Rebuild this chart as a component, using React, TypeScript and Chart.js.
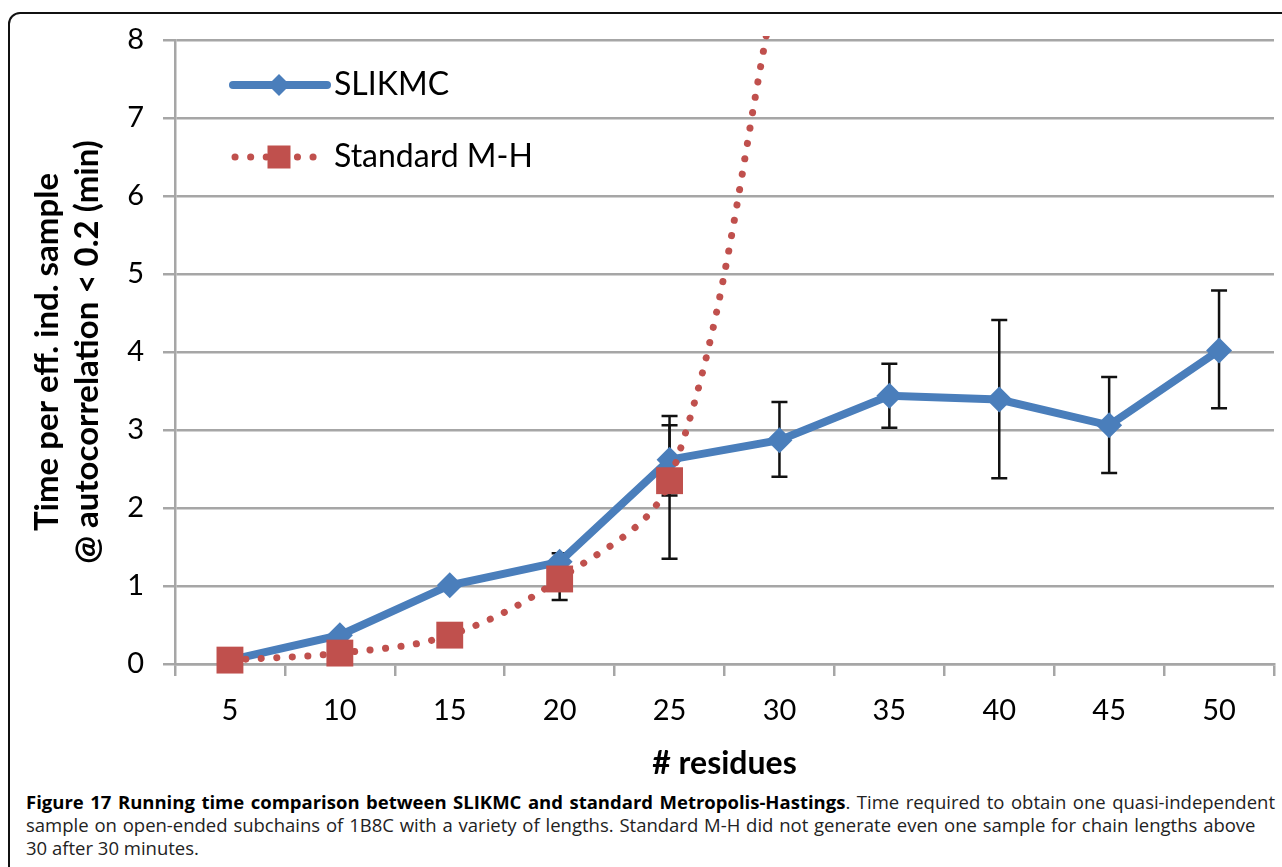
import React, { useEffect, useRef } from 'react';
import { Chart, registerables } from 'chart.js';

Chart.register(...registerables);

const categories = ['5', '10', '15', '20', '25', '30', '35', '40', '45', '50'];
const slikmcValues = [0.05, 0.37, 1.01, 1.31, 2.62, 2.87, 3.44, 3.39, 3.06, 4.02];
const mhValues: (number | null)[] = [0.05, 0.14, 0.37, 1.09, 2.35, 8.9, null, null, null, null];
const slikmcErrLow: (number | null)[] = [null, null, null, null, 1.35, 2.4, 3.03, 2.38, 2.45, 3.28];
const slikmcErrHigh: (number | null)[] = [null, null, null, null, 3.18, 3.36, 3.85, 4.41, 3.68, 4.79];
const mhErrLow: (number | null)[] = [null, null, null, 0.82, 2.16, null, null, null, null, null];
const mhErrHigh: (number | null)[] = [null, null, null, 1.42, 3.06, null, null, null, null, null];
const yMin = 0;
const yMax = 8;
const yStep = 1;

const seriesNames = ['SLIKMC', 'Standard M-H'];
const xTitle = '# residues';
const yTitle = ['Time per eff. ind. sample', '@ autocorrelation < 0.2 (min)'];

const BLUE = '#4a7ebb';
const RED = '#c0504d';
const GRID = '#a6a6a6';
const FONT = 'Lato, "Open Sans", sans-serif';

const errorBarPlugin = {
  id: 'errorBars',
  beforeDatasetsDraw(chart: any) {
    const { ctx } = chart;
    const xs = chart.scales.x;
    const ys = chart.scales.y;
    ctx.save();
    ctx.strokeStyle = '#111';
    ctx.lineWidth = 2.5;
    const draw = (lows: (number | null)[], highs: (number | null)[]) => {
      lows.forEach((lo, i) => {
        const hi = highs[i];
        if (lo == null || hi == null) return;
        const px = xs.getPixelForValue(i);
        const p1 = ys.getPixelForValue(lo);
        const p2 = ys.getPixelForValue(hi);
        ctx.beginPath();
        ctx.moveTo(px, p1);
        ctx.lineTo(px, p2);
        ctx.moveTo(px - 8, p1);
        ctx.lineTo(px + 8, p1);
        ctx.moveTo(px - 8, p2);
        ctx.lineTo(px + 8, p2);
        ctx.stroke();
      });
    };
    draw(slikmcErrLow, slikmcErrHigh);
    draw(mhErrLow, mhErrHigh);
    ctx.restore();
  },
};

const legendPlugin = {
  id: 'insideLegend',
  afterDraw(chart: any) {
    const { ctx, chartArea } = chart;
    const L = chartArea.left;
    const T = chartArea.top;
    ctx.save();
    // row 1: SLIKMC
    let y = T + 45;
    ctx.strokeStyle = BLUE;
    ctx.lineWidth = 8;
    ctx.lineCap = 'round';
    ctx.beginPath();
    ctx.moveTo(L + 58, y);
    ctx.lineTo(L + 152, y);
    ctx.stroke();
    ctx.fillStyle = BLUE;
    const r = 11;
    const cx = L + 104;
    ctx.beginPath();
    ctx.moveTo(cx - r, y);
    ctx.lineTo(cx, y - r);
    ctx.lineTo(cx + r, y);
    ctx.lineTo(cx, y + r);
    ctx.closePath();
    ctx.fill();
    ctx.fillStyle = '#000';
    ctx.font = `32px ${FONT}`;
    ctx.textBaseline = 'middle';
    ctx.textAlign = 'left';
    ctx.fillText(seriesNames[0], L + 159, y);
    // row 2: Standard M-H
    y = T + 117;
    ctx.strokeStyle = RED;
    ctx.lineWidth = 7;
    ctx.setLineDash([0.1, 15.5]);
    ctx.beginPath();
    ctx.moveTo(L + 60, y);
    ctx.lineTo(L + 145, y);
    ctx.stroke();
    ctx.setLineDash([]);
    ctx.fillStyle = RED;
    const s = 23;
    const sx = L + 104;
    ctx.fillRect(sx - s / 2, y - s / 2, s, s);
    ctx.fillStyle = '#000';
    ctx.fillText(seriesNames[1], L + 159, y);
    ctx.restore();
  },
};

function ChartView() {
  const ref = useRef<HTMLCanvasElement | null>(null);
  useEffect(() => {
    if (!ref.current) return;
    const chart = new Chart(ref.current, {
      type: 'line',
      data: {
        labels: categories,
        datasets: [
          {
            label: seriesNames[0],
            data: slikmcValues,
            borderColor: BLUE,
            backgroundColor: BLUE,
            borderWidth: 8,
            pointStyle: 'rectRot',
            pointRadius: 13,
            pointBorderWidth: 0,
            pointBackgroundColor: BLUE,
            tension: 0,
            order: 2,
            clip: { top: 4, bottom: false, left: false, right: false } as any,
          },
          {
            label: seriesNames[1],
            data: mhValues,
            borderColor: RED,
            backgroundColor: RED,
            borderWidth: 7,
            borderDash: [0.1, 15.5],
            borderCapStyle: 'round',
            pointStyle: 'rect',
            pointRadius: 19,
            pointBorderWidth: 0,
            pointBackgroundColor: RED,
            tension: 0.35,
            spanGaps: false,
            order: 1,
            clip: { top: 4, bottom: false, left: false, right: false } as any,
          },
        ],
      },
      options: {
        animation: false,
        responsive: false,
        maintainAspectRatio: false,
        layout: { padding: { top: 26, right: 0, left: 0, bottom: 0 } },
        plugins: { legend: { display: false }, tooltip: { enabled: false } },
        scales: {
          x: {
            type: 'category',
            offset: true,
            grid: {
              offset: true,
              drawOnChartArea: false,
              drawTicks: true,
              tickLength: 12,
              color: GRID,
              lineWidth: 2.5,
            },
            border: { display: true, color: GRID, width: 2.5 },
            ticks: { color: '#000', font: { family: FONT, size: 29 }, padding: 17, maxRotation: 0 },
            title: {
              display: true,
              text: xTitle,
              color: '#000',
              font: { family: FONT, size: 32, weight: 'bold' },
              padding: { top: 0, bottom: 3 },
            },
            afterFit: (s: any) => {
              s.height = 122;
            },
          },
          y: {
            min: yMin,
            max: yMax,
            ticks: { stepSize: yStep, color: '#000', font: { family: FONT, size: 29 }, padding: 19 },
            grid: { color: GRID, lineWidth: 2.5, tickLength: 12 },
            border: { display: true, color: GRID, width: 2.5 },
            title: {
              display: true,
              text: yTitle,
              color: '#000',
              font: { family: FONT, size: 33, weight: 'bold', lineHeight: 1.21 },
              padding: { top: 17, bottom: 0 },
            },
            afterFit: (s: any) => {
              s.width = 165;
              s.paddingTop = 0;
              s.paddingBottom = 0;
            },
          },
        },
      },
      plugins: [errorBarPlugin, legendPlugin],
    });
    return () => chart.destroy();
  }, []);
  return (
    <canvas
      ref={ref}
      width={1283}
      height={772}
      style={{ position: 'absolute', left: 10, top: 14, width: 1283, height: 772 }}
    />
  );
}

const captionFont = '"Open Sans", "Noto Sans", sans-serif';

export default function App() {
  return (
    <div
      style={{
        position: 'absolute',
        left: 0,
        top: 0,
        width: 1282,
        height: 867,
        overflow: 'hidden',
        background: '#fff',
      }}
    >
      <div
        style={{
          position: 'absolute',
          left: 8,
          top: 12,
          width: 1300,
          height: 900,
          border: '2px solid #111',
          borderTopLeftRadius: 12,
          boxSizing: 'border-box',
        }}
      />
      <ChartView />
      <div
        style={{
          position: 'absolute',
          left: 26,
          top: 790,
          width: 1249,
          fontFamily: captionFont,
          fontSize: 18.5,
          lineHeight: '23px',
          color: '#222',
        }}
      >
        <div style={{ textAlign: 'justify', textAlignLast: 'justify', height: 23 }}>
          <b style={{ color: '#000' }}>
            Figure 17 Running time comparison between SLIKMC and standard Metropolis-Hastings
          </b>
          . Time required to obtain one quasi-independent
        </div>
        <div style={{ whiteSpace: 'nowrap', height: 23, wordSpacing: '1px' }}>
          sample on open-ended subchains of 1B8C with a variety of lengths. Standard M-H did not generate even one sample for chain lengths above
        </div>
        <div style={{ height: 23 }}>30 after 30 minutes.</div>
      </div>
    </div>
  );
}
